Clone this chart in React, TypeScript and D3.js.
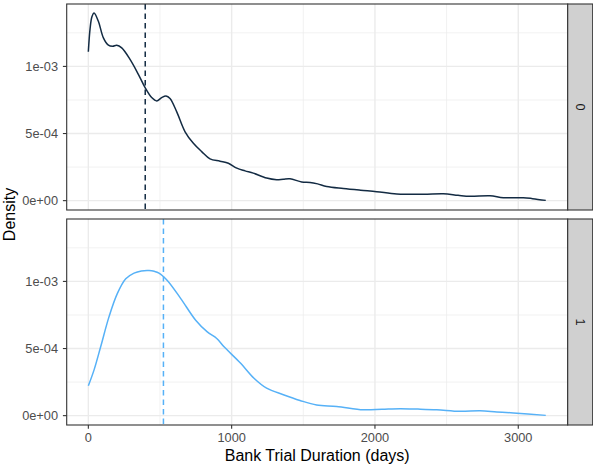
import React from "react";
import * as d3 from "d3";

// Kernel density estimates of bank trial duration, one facet per outcome group
const groups = ["0", "1"];
const lineColors = ["#132B43", "#56B1F7"];

const days0 = [0, 12, 25, 40, 70, 105, 140, 170, 198, 233, 291, 349, 396, 442, 477, 512, 542, 570, 617, 675, 733, 791, 849, 919, 977, 1036, 1094, 1151, 1244, 1314, 1360, 1407, 1489, 1547, 1600, 1663, 1779, 1900, 2012, 2152, 2338, 2477, 2580, 2663, 2803, 2896, 3035, 3100, 3192];
const density0 = [1.109, 1.28, 1.37, 1.398, 1.336, 1.213, 1.158, 1.15, 1.158, 1.138, 1.052, 0.941, 0.842, 0.768, 0.743, 0.768, 0.78, 0.761, 0.661, 0.513, 0.427, 0.365, 0.311, 0.294, 0.279, 0.242, 0.222, 0.205, 0.168, 0.156, 0.16, 0.163, 0.139, 0.136, 0.125, 0.106, 0.091, 0.078, 0.067, 0.05, 0.047, 0.052, 0.04, 0.032, 0.037, 0.022, 0.022, 0.015, 0.002];

const days1 = [0, 40, 86, 144, 202, 261, 319, 370, 424, 460, 493, 551, 645, 749, 830, 896, 947, 1063, 1156, 1244, 1361, 1477, 1593, 1733, 1919, 2050, 2175, 2300, 2431, 2594, 2733, 2850, 2966, 3192];
const density1 = [0.222, 0.341, 0.513, 0.736, 0.909, 1.02, 1.062, 1.078, 1.081, 1.075, 1.062, 1.007, 0.872, 0.711, 0.624, 0.575, 0.513, 0.39, 0.279, 0.205, 0.156, 0.113, 0.079, 0.069, 0.044, 0.048, 0.052, 0.049, 0.044, 0.032, 0.037, 0.028, 0.02, 0.002];

// median trial duration per group
const medians = [397, 524];

const xTicks = [0, 1000, 2000, 3000];
const xMinor = [500, 1500, 2500];
const yTicks = [0, 0.0005, 0.001];
const yTickLabels = ["0e+00", "5e-04", "1e-03"];
const yMinor = [0.00025, 0.00075, 0.00125];

const series = [
  { days: days0, density: density0 },
  { days: days1, density: density1 },
];

const W = 593;
const H = 466;
const panelLeft = 66.7;
const panelRight = 567.7;
const stripRight = 592.7;
const panels = [
  { top: 4, bottom: 210 },
  { top: 219, bottom: 425 },
];
const font = "'Liberation Sans', Arial, Helvetica, sans-serif";
const tickSize = 12.8;
const titleSize = 16;

export default function App() {
  const x = d3.scaleLinear().domain([-151, 3345]).range([panelLeft, panelRight]);

  return (
    <svg
      width={W}
      height={H}
      style={{ position: "absolute", left: 0, top: 0, background: "#fff" }}
      fontFamily={font}
    >
      {panels.map((p, i) => {
        const y = d3.scaleLinear().domain([-6.97e-5, 1.465e-3]).range([p.bottom, p.top]);
        const s = series[i];
        const pts: [number, number][] = s.days.map((d, k) => [d, s.density[k] * 1e-3]);
        const line = d3
          .line<[number, number]>()
          .x((d) => x(d[0]))
          .y((d) => y(d[1]))
          .curve(d3.curveCatmullRom.alpha(0.5));
        return (
          <g key={groups[i]}>
            <rect x={panelLeft} y={p.top} width={panelRight - panelLeft} height={p.bottom - p.top} fill="#fff" />
            {yMinor.map((v) => (
              <line key={"ym" + v} x1={panelLeft} x2={panelRight} y1={y(v)} y2={y(v)} stroke="#ebebeb" strokeWidth={0.7} />
            ))}
            {xMinor.map((v) => (
              <line key={"xm" + v} x1={x(v)} x2={x(v)} y1={p.top} y2={p.bottom} stroke="#ebebeb" strokeWidth={0.7} />
            ))}
            {yTicks.map((v) => (
              <line key={"yM" + v} x1={panelLeft} x2={panelRight} y1={y(v)} y2={y(v)} stroke="#ebebeb" strokeWidth={1.4} />
            ))}
            {xTicks.map((v) => (
              <line key={"xM" + v} x1={x(v)} x2={x(v)} y1={p.top} y2={p.bottom} stroke="#ebebeb" strokeWidth={1.4} />
            ))}
            <path d={line(pts) ?? ""} fill="none" stroke={lineColors[i]} strokeWidth={1.5} />
            <line
              x1={x(medians[i])}
              x2={x(medians[i])}
              y1={p.top}
              y2={p.bottom}
              stroke={lineColors[i]}
              strokeWidth={1.5}
              strokeDasharray="5.5,4"
            />
            <rect
              x={panelLeft}
              y={p.top}
              width={panelRight - panelLeft}
              height={p.bottom - p.top}
              fill="none"
              stroke="#333333"
              strokeWidth={1.1}
            />
            {/* facet strip */}
            <rect
              x={panelRight}
              y={p.top}
              width={stripRight - panelRight}
              height={p.bottom - p.top}
              fill="#d0d0d0"
              stroke="#333333"
              strokeWidth={1.1}
            />
            <text
              transform={`translate(${(panelRight + stripRight) / 2},${(p.top + p.bottom) / 2}) rotate(90)`}
              textAnchor="middle"
              dominantBaseline="central"
              fontSize={tickSize}
              fill="#1a1a1a"
            >
              {groups[i]}
            </text>
            {/* y axis */}
            {yTicks.map((v, k) => (
              <g key={"yt" + v}>
                <line x1={panelLeft - 3.8} x2={panelLeft} y1={y(v)} y2={y(v)} stroke="#333333" strokeWidth={1.1} />
                <text x={panelLeft - 8.6} y={y(v)} textAnchor="end" dominantBaseline="central" fontSize={tickSize} fill="#4d4d4d">
                  {yTickLabels[k]}
                </text>
              </g>
            ))}
          </g>
        );
      })}
      {/* x axis under the lower panel */}
      {xTicks.map((v) => (
        <g key={"xt" + v}>
          <line x1={x(v)} x2={x(v)} y1={panels[1].bottom} y2={panels[1].bottom + 3.8} stroke="#333333" strokeWidth={1.1} />
          <text x={x(v)} y={442.4} textAnchor="middle" fontSize={tickSize} fill="#4d4d4d">
            {v}
          </text>
        </g>
      ))}
      <text x={(panelLeft + panelRight) / 2} y={460.6} textAnchor="middle" fontSize={titleSize} fill="#000">
        Bank Trial Duration (days)
      </text>
      <text
        transform={`translate(15,${(panels[0].top + panels[1].bottom) / 2}) rotate(-90)`}
        textAnchor="middle"
        fontSize={titleSize}
        fill="#000"
      >
        Density
      </text>
    </svg>
  );
}
